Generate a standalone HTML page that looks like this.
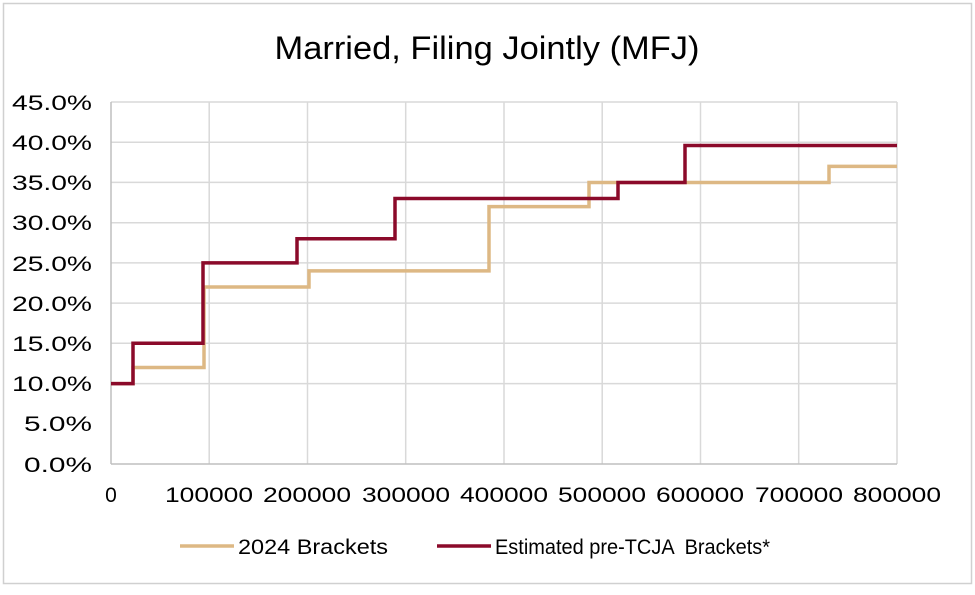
<!DOCTYPE html>
<html><head><meta charset="utf-8"><style>
body{margin:0;background:#fff}
svg text{font-family:"Liberation Sans",sans-serif;fill:#000}
</style></head><body>
<svg width="975" height="590" xmlns="http://www.w3.org/2000/svg">
<rect x="3.5" y="3.5" width="968" height="580" fill="#fff" stroke="#d0d0d0" stroke-width="1.5"/>
<text x="487" y="59" font-size="32" text-anchor="middle" textLength="425" lengthAdjust="spacingAndGlyphs">Married, Filing Jointly (MFJ)</text>
<g stroke="#d9d9d9" stroke-width="1.5">
<line x1="111" y1="102" x2="897" y2="102"/><line x1="111" y1="142.2" x2="897" y2="142.2"/>
<line x1="111" y1="182.4" x2="897" y2="182.4"/><line x1="111" y1="222.7" x2="897" y2="222.7"/>
<line x1="111" y1="262.9" x2="897" y2="262.9"/><line x1="111" y1="303.1" x2="897" y2="303.1"/>
<line x1="111" y1="343.3" x2="897" y2="343.3"/><line x1="111" y1="383.6" x2="897" y2="383.6"/>
<line x1="209.2" y1="102" x2="209.2" y2="464"/><line x1="307.5" y1="102" x2="307.5" y2="464"/>
<line x1="405.7" y1="102" x2="405.7" y2="464"/><line x1="504" y1="102" x2="504" y2="464"/>
<line x1="602.2" y1="102" x2="602.2" y2="464"/><line x1="700.5" y1="102" x2="700.5" y2="464"/>
<line x1="798.7" y1="102" x2="798.7" y2="464"/><line x1="897" y1="102" x2="897" y2="464"/>
</g>
<g stroke="#bfbfbf" stroke-width="1.5"><line x1="111" y1="102" x2="111" y2="464"/><line x1="111" y1="464" x2="897" y2="464"/></g>
<g font-size="21" text-anchor="end">
<text x="92" y="110" textLength="80" lengthAdjust="spacingAndGlyphs">45.0%</text>
<text x="92" y="150" textLength="80" lengthAdjust="spacingAndGlyphs">40.0%</text>
<text x="92" y="190" textLength="80" lengthAdjust="spacingAndGlyphs">35.0%</text>
<text x="92" y="230" textLength="80" lengthAdjust="spacingAndGlyphs">30.0%</text>
<text x="92" y="271" textLength="80" lengthAdjust="spacingAndGlyphs">25.0%</text>
<text x="92" y="311" textLength="80" lengthAdjust="spacingAndGlyphs">20.0%</text>
<text x="92" y="351" textLength="80" lengthAdjust="spacingAndGlyphs">15.0%</text>
<text x="92" y="391" textLength="80" lengthAdjust="spacingAndGlyphs">10.0%</text>
<text x="92" y="431" textLength="68" lengthAdjust="spacingAndGlyphs">5.0%</text>
<text x="92" y="472" textLength="68" lengthAdjust="spacingAndGlyphs">0.0%</text>
</g>
<g font-size="21" text-anchor="middle">
<text x="111" y="502">0</text>
<text x="209" y="502" textLength="88" lengthAdjust="spacingAndGlyphs">100000</text>
<text x="307" y="502" textLength="88" lengthAdjust="spacingAndGlyphs">200000</text>
<text x="406" y="502" textLength="88" lengthAdjust="spacingAndGlyphs">300000</text>
<text x="504" y="502" textLength="88" lengthAdjust="spacingAndGlyphs">400000</text>
<text x="602" y="502" textLength="88" lengthAdjust="spacingAndGlyphs">500000</text>
<text x="700" y="502" textLength="88" lengthAdjust="spacingAndGlyphs">600000</text>
<text x="799" y="502" textLength="88" lengthAdjust="spacingAndGlyphs">700000</text>
<text x="897" y="502" textLength="88" lengthAdjust="spacingAndGlyphs">800000</text>
</g>
<polyline fill="none" stroke="#ddb884" stroke-width="3.5" points="111,383.6 133,383.6 133,367.5 204,367.5 204,287 309,287 309,270.9 489,270.9 489,206.6 589,206.6 589,182.5 829,182.5 829,166.4 897,166.4"/>
<polyline fill="none" stroke="#8b0a2a" stroke-width="3.5" points="111,383.6 133,383.6 133,343.3 203,343.3 203,262.9 297,262.9 297,238.8 395,238.8 395,198.5 618,198.5 618,182.5 685,182.5 685,145.5 897,145.5"/>
<line x1="180" y1="546" x2="234" y2="546" stroke="#ddb884" stroke-width="3.5"/>
<text x="238" y="554" font-size="21" textLength="150" lengthAdjust="spacingAndGlyphs">2024 Brackets</text>
<line x1="437" y1="546" x2="491" y2="546" stroke="#8b0a2a" stroke-width="3.5"/>
<text x="495" y="554" font-size="21" textLength="275" lengthAdjust="spacingAndGlyphs" xml:space="preserve">Estimated pre-TCJA  Brackets*</text>
</svg>
</body></html>
